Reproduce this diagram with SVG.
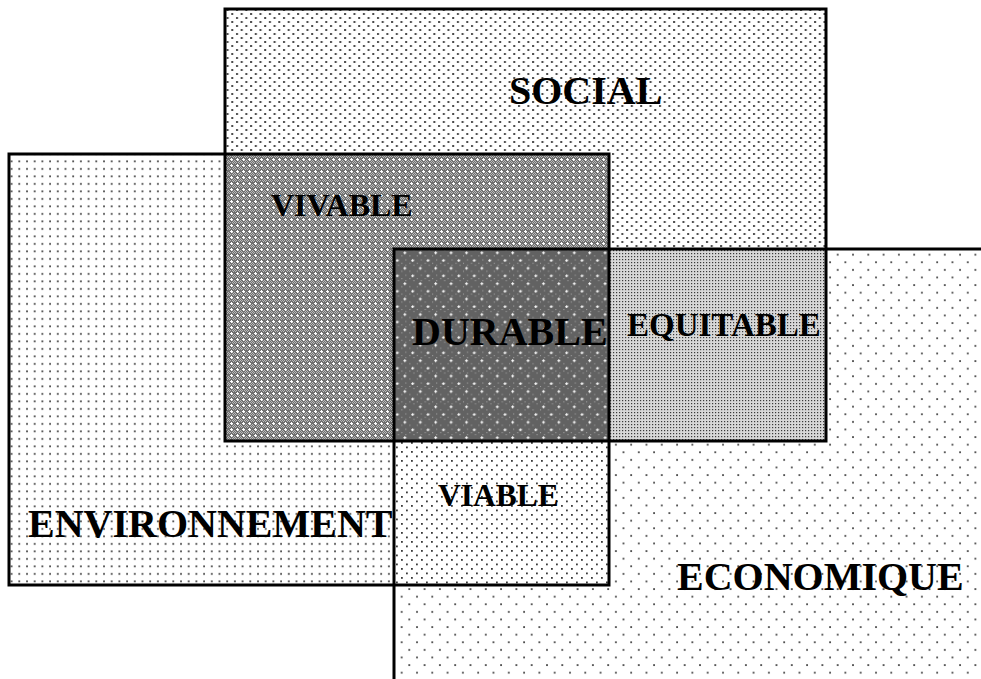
<svg xmlns="http://www.w3.org/2000/svg" width="981" height="679" viewBox="0 0 981 679">
<style>
.b{fill:none;stroke:#000;stroke-width:3}
.t{font-family:"Liberation Serif","Times New Roman",serif;font-weight:bold;fill:#000}
</style>
<defs>
<pattern id="pEnv" width="7.7" height="7.5" patternUnits="userSpaceOnUse">
<rect width="7.7" height="7.5" fill="#fff"/>
<rect x="3" y="3" width="1.8" height="1.8" fill="#4a4a4a"/>
</pattern>
<pattern id="pSoc" width="9.4" height="8" patternUnits="userSpaceOnUse">
<rect width="9.4" height="8" fill="#fff"/>
<rect x="1" y="1" width="2" height="2" fill="#4a4a4a"/>
<rect x="5.7" y="5" width="2" height="2" fill="#4a4a4a"/>
</pattern>
<pattern id="pEco" width="15.3" height="15.2" patternUnits="userSpaceOnUse">
<rect width="15.3" height="15.2" fill="#fff"/>
<rect x="3" y="3" width="1.8" height="1.8" fill="#4a4a4a"/>
<rect x="10.6" y="10.6" width="1.8" height="1.8" fill="#4a4a4a"/>
</pattern>
<pattern id="pVia" width="10" height="9" patternUnits="userSpaceOnUse">
<rect width="10" height="9" fill="#fff"/>
<rect x="1" y="1" width="1.8" height="1.8" fill="#3a3a3a"/>
<rect x="6" y="5.5" width="1.8" height="1.8" fill="#3a3a3a"/>
</pattern>
<pattern id="pEqu" width="3" height="3" patternUnits="userSpaceOnUse">
<rect width="3" height="3" fill="#d8d8d8"/>
<rect x="1" y="1" width="1.2" height="1.2" fill="#3a3a3a"/>
</pattern>
<pattern id="pViv" width="6" height="6" patternUnits="userSpaceOnUse">
<rect width="6" height="6" fill="#707070"/>
<rect x="0" y="0" width="1" height="1" fill="#bbb"/>
<rect x="2" y="0" width="1" height="1" fill="#bbb"/>
<rect x="4" y="0" width="1" height="1" fill="#bbb"/>
<rect x="1" y="1" width="1" height="1" fill="#bbb"/>
<rect x="5" y="1" width="1" height="1" fill="#bbb"/>
<rect x="0" y="4" width="1" height="1" fill="#bbb"/>
<rect x="4" y="4" width="1" height="1" fill="#bbb"/>
<rect x="1" y="5" width="1" height="1" fill="#bbb"/>
<rect x="5" y="5" width="1" height="1" fill="#bbb"/>
<rect x="2" y="3" width="3" height="1" fill="#fff"/>
<rect x="3" y="2" width="1" height="3" fill="#fff"/>
</pattern>
<pattern id="pDur" width="15.4" height="15.4" patternUnits="userSpaceOnUse">
<rect width="15.4" height="15.4" fill="#626262"/>
<rect x="1" y="1" width="1" height="1" fill="#aaa"/>
<rect x="5" y="3" width="1" height="1" fill="#aaa"/>
<rect x="9" y="1" width="1" height="1" fill="#aaa"/>
<rect x="13" y="3" width="1" height="1" fill="#aaa"/>
<rect x="1" y="9" width="1" height="1" fill="#aaa"/>
<rect x="9" y="9" width="1" height="1" fill="#aaa"/>
<rect x="5" y="13" width="1" height="1" fill="#aaa"/>
<rect x="13" y="13" width="1" height="1" fill="#aaa"/>
<rect x="3" y="6" width="3" height="1" fill="#fff"/>
<rect x="4" y="5" width="1" height="3" fill="#fff"/>
<rect x="10.7" y="13.7" width="3" height="1" fill="#fff"/>
<rect x="11.7" y="12.7" width="1" height="3" fill="#fff"/>
</pattern>
</defs>
<g id="fills">
<rect id="env-fill" x="9" y="154" width="600" height="431" fill="url(#pEnv)"/>
<rect id="soc-fill" x="225" y="9" width="601" height="432" fill="url(#pSoc)"/>
<rect id="eco-fill" x="394" y="249" width="590" height="433" fill="url(#pEco)"/>
<rect id="viv-fill" x="225" y="154" width="384" height="287" fill="url(#pViv)"/>
<rect id="equ-fill" x="394" y="249" width="432" height="192" fill="url(#pEqu)"/>
<rect id="via-fill" x="394" y="249" width="215" height="336" fill="url(#pVia)"/>
<rect id="dur-fill" x="394" y="249" width="215" height="192" fill="url(#pDur)"/>
</g>
<g id="borders">
<rect id="env" class="b" x="9" y="154" width="600" height="431"/>
<rect id="social" class="b" x="225" y="9" width="601" height="432"/>
<rect id="eco" class="b" x="394" y="249" width="600" height="440"/>
</g>
<g id="labels">
<text class="t" x="509" y="104" font-size="40">SOCIAL</text>
<text class="t" x="271" y="216" font-size="32">VIVABLE</text>
<text class="t" x="412" y="345" font-size="40">DURABLE</text>
<text class="t" x="627" y="336" font-size="33">EQUITABLE</text>
<text class="t" x="438" y="506" font-size="31.5">VIABLE</text>
<text class="t" x="28" y="537" font-size="40">ENVIRONNEMENT</text>
<text class="t" x="677" y="590" font-size="40">ECONOMIQUE</text>
</g>
</svg>
